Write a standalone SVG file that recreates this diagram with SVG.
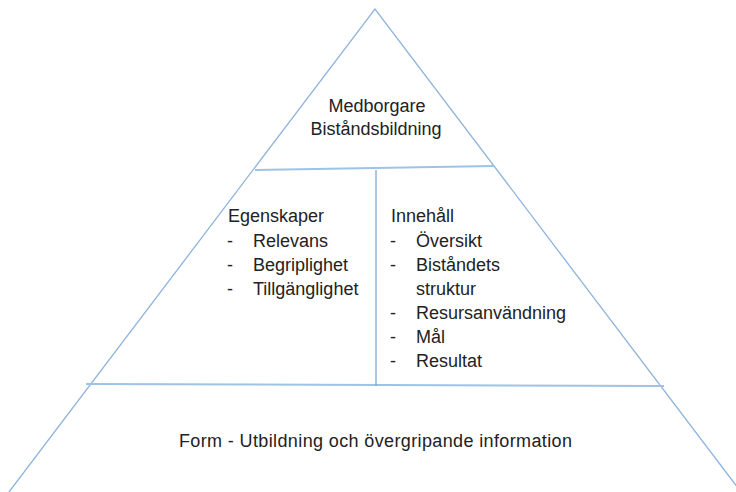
<svg xmlns="http://www.w3.org/2000/svg" width="736" height="492" viewBox="0 0 736 492">
<style>
.e{fill:none;stroke:#8FB3DC;stroke-width:1.3}
.h{fill:none;stroke:#9DC3E6;stroke-width:2}
.v{fill:none;stroke:#6FA3DA;stroke-width:1.2}
text{font-family:"Liberation Sans",Arial,sans-serif;font-size:18px;fill:#222}
.c{text-anchor:middle}
</style>
<rect width="736" height="492" fill="#fff"/>
<g id="connectors">
<polyline class="e" points="9,492 375,9 741,492"/>
<line class="h" x1="255" y1="170" x2="494" y2="166"/>
<line class="h" x1="86" y1="384" x2="664" y2="386"/>
<line class="v" x1="376" y1="170" x2="376" y2="386"/>
</g>
<g id="top">
<text class="c" x="377" y="112">Medborgare</text>
<text class="c" x="376" y="135">Biståndsbildning</text>
</g>
<g id="egenskaper">
<text x="228" y="222">Egenskaper</text>
<text x="227" y="247">-</text><text x="253" y="247">Relevans</text>
<text x="227" y="271">-</text><text x="253" y="271">Begriplighet</text>
<text x="227" y="295">-</text><text x="253" y="295">Tillgänglighet</text>
</g>
<g id="innehall">
<text x="391" y="222">Innehåll</text>
<text x="390" y="247">-</text><text x="416" y="247">Översikt</text>
<text x="390" y="271">-</text><text x="416" y="271">Biståndets</text>
<text x="416" y="295">struktur</text>
<text x="390" y="319">-</text><text x="416" y="319">Resursanvändning</text>
<text x="390" y="343">-</text><text x="416" y="343">Mål</text>
<text x="390" y="367">-</text><text x="416" y="367">Resultat</text>
</g>
<g id="form">
<text x="179" y="447" textLength="393" lengthAdjust="spacing">Form - Utbildning och övergripande information</text>
</g>
</svg>
